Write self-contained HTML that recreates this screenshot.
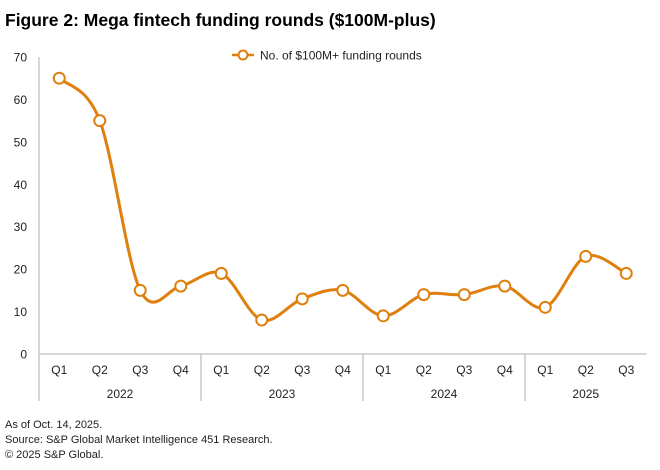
<!DOCTYPE html>
<html><head><meta charset="utf-8"><style>
body{margin:0;background:#fff;font-family:"Liberation Sans",sans-serif;}
#wrap{position:relative;width:660px;height:470px;overflow:hidden}
</style></head><body>
<div id="wrap">
<svg id="c" width="660" height="470" xmlns="http://www.w3.org/2000/svg">
<text x="5" y="26" font-size="17.5" font-weight="bold" fill="#000">Figure 2: Mega fintech funding rounds ($100M-plus)</text>
<g>
<line x1="232" y1="55" x2="254" y2="55" stroke="#df7f0e" stroke-width="2.5"/>
<circle cx="243" cy="55" r="4.5" fill="#fff" stroke="#df7f0e" stroke-width="2"/>
<text x="260" y="59.5" font-size="12" fill="#222">No. of $100M+ funding rounds</text>
</g>
<g id="axes"></g>
<g id="series"></g>
<text x="5" y="428" font-size="11" fill="#222">As of Oct. 14, 2025.</text>
<text x="5" y="443" font-size="11" fill="#222">Source: S&amp;P Global Market Intelligence 451 Research.</text>
<text x="5" y="458" font-size="11" fill="#222">© 2025 S&amp;P Global.</text>
</svg>
</div>
<script>
const quarters=["Q1","Q2","Q3","Q4","Q1","Q2","Q3","Q4","Q1","Q2","Q3","Q4","Q1","Q2","Q3"];
const years=["2022","2023","2024","2025"];
const yearCounts=[4,4,4,3];
const values=[65,55,15,16,19,8,13,15,9,14,14,16,11,23,19];
const yTicks=[0,10,20,30,40,50,60,70];
const NS="http://www.w3.org/2000/svg";
const x0=39,cw=40.5,yb=354,yt=57,ymax=70;
const xS=i=>x0+cw*(i+0.5);
const yS=v=>yb-(v/ymax)*(yb-yt);
function mk(t,a,p){const e=document.createElementNS(NS,t);for(const k in a)e.setAttribute(k,a[k]);p.appendChild(e);return e;}
const ax=document.getElementById('axes'),se=document.getElementById('series');
const xEnd=x0+cw*quarters.length;
let l=mk('line',{x1:x0,y1:yt,x2:x0,y2:401,stroke:'#c8c8c8','stroke-width':1.5},ax);


l=mk('line',{x1:x0,y1:yb,x2:xEnd,y2:yb,stroke:'#c8c8c8','stroke-width':1.5},ax);


yTicks.forEach(v=>{const t=mk('text',{x:27,y:yS(v)+4.5,'font-size':12,'text-anchor':'end',fill:'#222'},ax);t.textContent=v;

});
quarters.forEach((q,i)=>{const t=mk('text',{x:xS(i),y:374,'font-size':12,'text-anchor':'middle',fill:'#222'},ax);t.textContent=q;

});
let s=0;
years.forEach((y,k)=>{const n=yearCounts[k];const t=mk('text',{x:x0+cw*(s+n/2),y:398,'font-size':12,'text-anchor':'middle',fill:'#222'},ax);t.textContent=y;


s+=n;
if(k<years.length-1){const d=mk('line',{x1:x0+cw*s,y1:yb,x2:x0+cw*s,y2:401,stroke:'#c8c8c8','stroke-width':1.5},ax);

}});
const P=values.map((v,i)=>[xS(i),yS(v)]);
let d=`M${P[0][0]},${P[0][1]}`;
for(let i=0;i<P.length-1;i++){const p0=P[i-1]||P[i],p1=P[i],p2=P[i+1],p3=P[i+2]||P[i+1];
const c1=[p1[0]+(p2[0]-p0[0])/6,p1[1]+(p2[1]-p0[1])/6],c2=[p2[0]-(p3[0]-p1[0])/6,p2[1]-(p3[1]-p1[1])/6];
d+=` C${c1[0]},${c1[1]} ${c2[0]},${c2[1]} ${p2[0]},${p2[1]}`;}
const path=mk('path',{d:d,fill:'none',stroke:'#df7f0e','stroke-width':3},se);


P.forEach(p=>{const c=mk('circle',{cx:p[0],cy:p[1],r:5.5,fill:'#fff',stroke:'#df7f0e','stroke-width':2},se);

});
</script>
</body></html>
